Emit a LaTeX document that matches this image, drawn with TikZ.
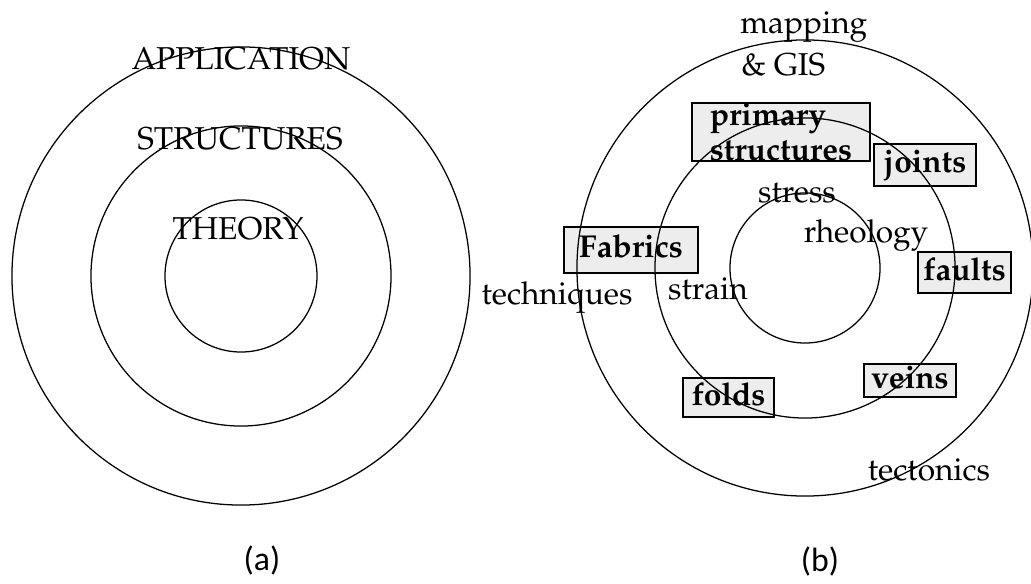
\documentclass[tikz,border=0pt]{standalone}
\usepackage[T1]{fontenc}
\usepackage{fontspec}
\newfontfamily\capsans{Carlito}
% Palatino for the ring words
\newcommand\ringfont{\fontencoding{T1}\fontfamily{ppl}\selectfont\fontsize{22.5}{25}\selectfont}

\tikzset{
  ring/.style={line width=0.9pt},
  word/.style={font=\ringfont, inner sep=0pt, anchor=base},
  tag/.style={font=\ringfont\bfseries, inner sep=0pt, draw, line width=1.4pt, fill=black!7},
  onetag/.style={tag, text height=16.4pt, text depth=5.6pt},
  panel/.style={font=\capsans\fontsize{24}{28}\selectfont}
}

\begin{document}
\begin{tikzpicture}[x=0.025cm,y=-0.025cm]
\useasboundingbox (0,0) rectangle (1031,584);

% (a) the three levels
\coordinate (a0) at (241,276);
\node[word] (application) at (241,70) {APPLICATION};
\node[word] (structures) at (240,150) {STRUCTURES};
\node[word] (theory) at (238,239) {THEORY};
\draw[ring] (a0) circle[radius=5.725cm];
\draw[ring] (a0) circle[radius=3.75cm];
\draw[ring] (a0) circle[radius=1.9cm];
\node[panel] (capa) at (262,560) {(a)};

% (b) topics placed on the rings
\coordinate (b0) at (805,268);
\node[tag, align=left, minimum width=4.45cm, minimum height=1.45cm] (primary) at (781,132) {primary\\structures};
\node[onetag, minimum width=2.55cm, minimum height=1.05cm] (joints) at (925,165) {joints};
\node[onetag, minimum width=3.35cm, minimum height=1.15cm] (fabrics) at (631,250) {Fabrics};
\node[onetag, minimum width=2.33cm, minimum height=1.03cm] (faults) at (964.5,272.5) {faults};
\node[onetag, minimum width=2.3cm, minimum height=0.83cm] (veins) at (910,380.5) {veins};
\node[onetag, minimum width=2.28cm, minimum height=0.98cm] (folds) at (728.5,397.5) {folds};

\node[word, anchor=base west] (mapping) at (740,34) {mapping};
\node[word, anchor=base west] (gis) at (741,76) {\& GIS};
\node[word] (stress) at (797,202) {stress};
\node[word] (rheology) at (866,242) {rheology};
\node[word] (strain) at (708,299) {strain};
\node[word] (techniques) at (557,304) {techniques};
\node[word] (tectonics) at (929,480) {tectonics};

\draw[ring] (b0) circle[radius=5.7cm];
\draw[ring] (b0) circle[radius=3.75cm];
\draw[ring] (b0) circle[radius=1.875cm];
\node[panel] (capb) at (820,561) {(b)};
\end{tikzpicture}
\end{document}
